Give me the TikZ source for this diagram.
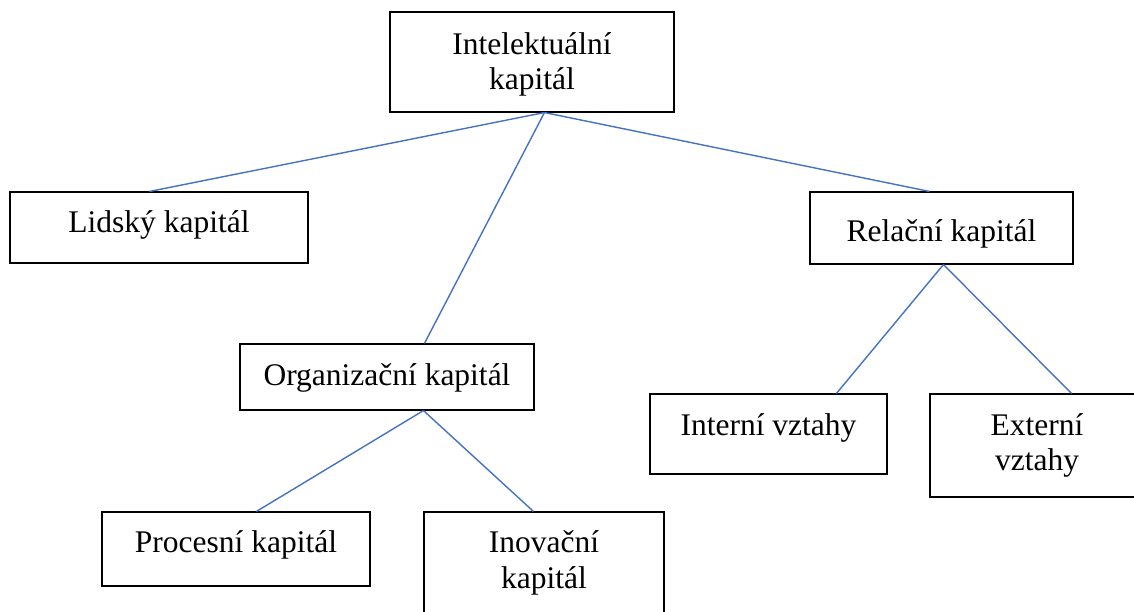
\documentclass[tikz,border=0pt]{standalone}
\usepackage{fontspec}
\setmainfont{Liberation Serif}
\usetikzlibrary{calc}
\definecolor{linkblue}{RGB}{68,114,196}
\tikzset{
  box/.style={draw=black, line width=1.1pt, rectangle, inner sep=0pt, fill=none},
  lbl/.style={anchor=base, inner sep=0pt, font=\fontsize{31.5}{36}\selectfont},
  link/.style={draw=linkblue, line width=1.4pt}
}
\begin{document}
\begin{tikzpicture}[x=1pt,y=-1pt]
\useasboundingbox (0,0) rectangle (1134,612);
\fill[white] (0,0) rectangle (1134,612);
% boxes
\node[box, minimum width=284, minimum height=100] (I) at (532,62) {};
\node[box, minimum width=298, minimum height=71] (L) at (159,227.5) {};
\node[box, minimum width=263, minimum height=72] (R) at (941.5,228) {};
\node[box, minimum width=294, minimum height=66] (O) at (387,377) {};
\node[box, minimum width=237, minimum height=80] (N) at (768.5,434) {};
\node[box, minimum width=214, minimum height=103] (E) at (1037,445.5) {};
\node[box, minimum width=268, minimum height=74] (P) at (236,549) {};
\node[box, minimum width=240, minimum height=110] (V) at (544,567) {};
% labels
\node[lbl] (tI1) at (532,55) {Intelektuální};
\node[lbl] (tI2) at (532,90) {kapitál};
\node[lbl] (tL) at (159,233) {Lidský kapitál};
\node[lbl] (tR) at (941.5,241) {Relační kapitál};
\node[lbl] (tO) at (387,385) {Organizační kapitál};
\node[lbl] (tN) at (768.5,435) {Interní vztahy};
\node[lbl] (tE1) at (1037,435) {Externí};
\node[lbl] (tE2) at (1037,470) {vztahy};
\node[lbl] (tP) at (236,552) {Procesní kapitál};
\node[lbl] (tV1) at (544,552) {Inovační};
\node[lbl] (tV2) at (544,588) {kapitál};
% connectors
\coordinate (Ia) at ($(I.south west)+(155,0)$);
\coordinate (Ra) at ($(R.south west)+(134,0)$);
\coordinate (Oa) at ($(O.south west)+(184,0)$);
\draw[link] (Ia) -- ($(L.north west)+(140,0)$);
\draw[link] (Ia) -- ($(O.north west)+(185,0)$);
\draw[link] (Ia) -- ($(R.north west)+(120,0)$);
\draw[link] (Ra) -- ($(N.north west)+(187,0)$);
\draw[link] (Ra) -- ($(E.north west)+(142,0)$);
\draw[link] (Oa) -- ($(P.north west)+(155,0)$);
\draw[link] (Oa) -- ($(V.north west)+(110,0)$);
\end{tikzpicture}
\end{document}
